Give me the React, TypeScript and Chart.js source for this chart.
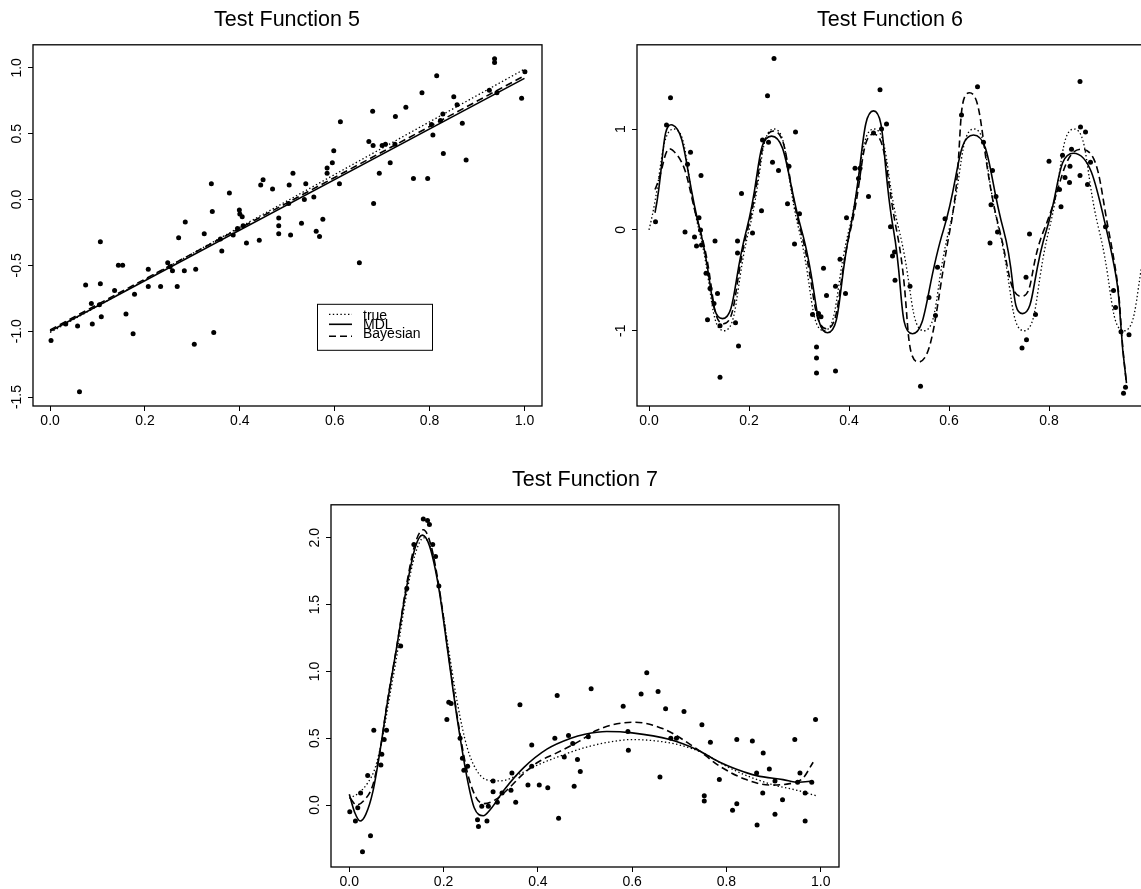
import React, { useEffect, useRef } from 'react';
import { Chart, registerables } from 'chart.js';

Chart.register(...registerables);

const FONT = "'Liberation Sans', Arial, Helvetica, sans-serif";
Chart.defaults.font.family = FONT;

const seriesLabels = ['true', 'MDL', 'Bayesian'];

// ---------------- Test Function 5 ----------------
const tf5PointX = [0.002,0.033,0.058,0.062,0.075,0.087,0.089,0.104,0.106,0.106,0.108,0.136,0.144,0.153,0.160,0.175,0.178,0.207,0.207,0.233,0.248,0.253,0.258,0.268,0.271,0.283,0.285,0.304,0.307,0.325,0.340,0.342,0.345,0.359,0.362,0.378,0.386,0.395,0.399,0.400,0.405,0.407,0.414,0.441,0.444,0.449,0.469,0.482,0.482,0.482,0.503,0.504,0.507,0.512,0.530,0.536,0.539,0.556,0.561,0.568,0.575,0.584,0.584,0.595,0.598,0.610,0.612,0.652,0.672,0.680,0.681,0.682,0.694,0.700,0.707,0.717,0.727,0.728,0.750,0.766,0.784,0.796,0.804,0.807,0.815,0.823,0.828,0.829,0.851,0.858,0.869,0.877,0.926,0.937,0.937,0.942,0.994,1.001];
const tf5PointY = [-1.07,-0.945,-0.96,-1.46,-0.65,-0.79,-0.945,-0.80,-0.32,-0.64,-0.89,-0.69,-0.50,-0.50,-0.87,-1.02,-0.72,-0.53,-0.66,-0.66,-0.48,-0.51,-0.54,-0.66,-0.29,-0.54,-0.17,-1.10,-0.53,-0.26,0.12,-0.09,-1.01,-0.30,-0.39,0.05,-0.27,-0.22,-0.08,-0.11,-0.13,-0.20,-0.33,-0.31,0.11,0.15,0.08,-0.14,-0.20,-0.26,-0.03,0.11,-0.27,0.20,-0.18,0.00,0.12,0.02,-0.24,-0.28,-0.15,0.24,0.20,0.28,0.37,0.12,0.59,-0.48,0.44,0.67,0.41,-0.03,0.20,0.41,0.42,0.28,0.42,0.63,0.70,0.16,0.81,0.16,0.57,0.49,0.94,0.60,0.65,0.35,0.78,0.72,0.58,0.30,0.83,1.07,1.04,0.81,0.77,0.97];
const tf5TrueX = [0.0, 1.0];
const tf5TrueY = [-1.01, 0.99];
const tf5MdlX = [0.0, 1.0];
const tf5MdlY = [-1.0, 0.92];
const tf5BayesX = [0.0, 1.0];
const tf5BayesY = [-0.99, 0.94];
const tf5XTicks = [0, 0.2, 0.4, 0.6, 0.8, 1.0];
const tf5YTicks = [-1.5, -1.0, -0.5, 0.0, 0.5, 1.0];

// ---------------- Test Function 6 ----------------
const tf6PointX = [0.013,0.035,0.043,0.072,0.077,0.083,0.091,0.095,0.100,0.103,0.104,0.105,0.114,0.117,0.122,0.130,0.132,0.137,0.142,0.142,0.173,0.177,0.177,0.179,0.185,0.207,0.225,0.227,0.237,0.239,0.247,0.250,0.259,0.277,0.280,0.291,0.293,0.301,0.327,0.335,0.335,0.335,0.339,0.344,0.349,0.355,0.373,0.373,0.382,0.393,0.395,0.412,0.419,0.422,0.439,0.449,0.462,0.465,0.475,0.483,0.487,0.491,0.492,0.522,0.543,0.560,0.573,0.577,0.592,0.625,0.657,0.669,0.682,0.684,0.687,0.694,0.697,0.746,0.754,0.755,0.761,0.773,0.800,0.821,0.824,0.827,0.832,0.841,0.842,0.845,0.862,0.862,0.863,0.873,0.877,0.883,0.913,0.929,0.933,0.944,0.949,0.953,0.960];
const tf6PointY = [0.08,1.04,1.31,-0.02,0.65,0.77,-0.07,-0.16,0.12,0.00,0.54,-0.15,-0.43,-0.89,-0.58,-0.73,-0.11,-0.63,-1.46,-0.95,-0.92,-0.11,-0.23,-1.15,0.36,-0.03,0.19,0.89,1.33,0.87,0.67,1.70,0.59,0.26,0.63,-0.14,0.97,0.16,-0.84,-1.16,-1.27,-1.42,-0.83,-0.86,-0.38,-0.65,-1.40,-0.56,-0.29,-0.63,0.12,0.61,0.51,0.61,0.33,0.96,1.39,1.00,1.05,0.03,-0.26,-0.22,-0.50,-0.56,-1.55,-0.67,-0.85,-0.37,0.11,1.14,1.42,0.87,-0.13,0.25,0.59,0.33,-0.02,-1.17,-0.47,-1.09,-0.04,-0.84,0.68,0.40,0.23,0.74,0.52,0.47,0.63,0.80,1.47,0.54,1.02,0.97,0.45,0.67,0.03,-0.60,-0.77,-1.01,-1.62,-1.56,-1.04];
const tf6TrueX = [0,0.05,0.1,0.15,0.2,0.25,0.3,0.35,0.4,0.45,0.5,0.55,0.6,0.65,0.7,0.75,0.8,0.85,0.9,0.95,1.0];
const tf6TrueY = [0,1,0,-1,0,1,0,-1,0,1,0,-1,0,1,0,-1,0,1,0,-1,0];
const tf6MdlX = [0.012,0.047,0.102,0.147,0.195,0.245,0.305,0.357,0.402,0.449,0.489,0.527,0.589,0.649,0.709,0.747,0.795,0.849,0.915,0.955];
const tf6MdlY = [0.17,1.04,0,-0.88,0,0.93,0,-1.02,0,1.18,0,-1.03,0,0.94,0,-0.83,0,0.76,0,-1.52];
const tf6BayesX = [0.012,0.047,0.102,0.149,0.197,0.249,0.303,0.355,0.403,0.449,0.495,0.539,0.602,0.641,0.701,0.745,0.79,0.865,0.919,0.955];
const tf6BayesY = [0.40,0.79,0,-0.93,0,0.98,0,-0.98,0,0.95,0,-1.31,0,1.36,0,-0.66,0,0.80,0,-1.52];
const tf6XTicks = [0, 0.2, 0.4, 0.6, 0.8];
const tf6YTicks = [-1, 0, 1];

// ---------------- Test Function 7 ----------------
const tf7PointX = [0.001,0.013,0.018,0.024,0.028,0.039,0.045,0.052,0.067,0.069,0.074,0.079,0.109,0.122,0.137,0.157,0.166,0.170,0.177,0.183,0.190,0.207,0.211,0.216,0.235,0.240,0.243,0.251,0.272,0.274,0.281,0.292,0.295,0.305,0.305,0.314,0.324,0.343,0.345,0.353,0.362,0.379,0.387,0.387,0.403,0.421,0.436,0.441,0.444,0.456,0.465,0.474,0.477,0.484,0.490,0.507,0.513,0.581,0.591,0.592,0.619,0.631,0.655,0.659,0.671,0.682,0.694,0.710,0.748,0.753,0.753,0.766,0.785,0.813,0.822,0.822,0.855,0.864,0.865,0.877,0.878,0.891,0.903,0.903,0.919,0.945,0.951,0.956,0.967,0.967,0.981,0.989];
const tf7PointY = [-0.05,-0.12,-0.02,0.09,-0.35,0.22,-0.23,0.56,0.30,0.38,0.49,0.56,1.19,1.62,1.95,2.14,2.13,2.10,1.95,1.86,1.64,0.64,0.77,0.76,0.50,0.35,0.26,0.29,-0.11,-0.16,-0.01,-0.12,-0.01,0.18,0.10,0.02,0.09,0.11,0.24,0.02,0.75,0.15,0.45,0.29,0.15,0.13,0.50,0.82,-0.10,0.36,0.52,0.46,0.14,0.34,0.25,0.51,0.87,0.74,0.55,0.41,0.83,0.99,0.85,0.21,0.72,0.50,0.50,0.70,0.60,0.07,0.03,0.47,0.19,-0.04,0.49,0.01,0.48,0.24,-0.15,0.09,0.39,0.27,-0.07,0.18,0.04,0.49,0.17,0.24,0.09,-0.12,0.17,0.64];
const tf7TrueX = [0.0,0.02,0.04,0.055,0.07,0.085,0.10,0.12,0.14,0.158,0.175,0.19,0.21,0.23,0.25,0.27,0.29,0.31,0.33,0.36,0.40,0.45,0.50,0.55,0.60,0.65,0.70,0.75,0.80,0.85,0.90,0.95,0.99];
const tf7TrueY = [0.05,0.09,0.17,0.28,0.50,0.80,1.10,1.55,1.88,2.00,1.90,1.63,1.18,0.75,0.43,0.26,0.19,0.18,0.185,0.23,0.30,0.37,0.43,0.47,0.49,0.48,0.45,0.39,0.29,0.21,0.15,0.11,0.07];
const tf7MdlX = [0.0,0.012,0.023,0.035,0.05,0.065,0.08,0.10,0.12,0.14,0.155,0.17,0.19,0.21,0.23,0.25,0.265,0.284,0.30,0.33,0.37,0.42,0.47,0.50,0.546,0.60,0.68,0.74,0.786,0.82,0.864,0.92,0.953,0.983];
const tf7MdlY = [0.08,-0.06,-0.12,-0.07,0.10,0.40,0.75,1.17,1.60,1.93,2.02,1.94,1.62,1.12,0.62,0.20,-0.02,-0.08,-0.03,0.12,0.28,0.42,0.50,0.53,0.55,0.54,0.49,0.41,0.32,0.27,0.22,0.19,0.17,0.18];
const tf7BayesX = [0.002,0.015,0.03,0.05,0.065,0.08,0.10,0.12,0.14,0.157,0.172,0.19,0.21,0.23,0.25,0.27,0.286,0.31,0.34,0.365,0.40,0.44,0.489,0.525,0.603,0.666,0.737,0.786,0.842,0.891,0.934,0.962,0.984];
const tf7BayesY = [0.05,0.00,0.03,0.15,0.40,0.76,1.17,1.62,1.96,2.06,1.96,1.64,1.14,0.64,0.25,0.05,0.01,0.04,0.13,0.22,0.32,0.39,0.48,0.56,0.62,0.57,0.42,0.29,0.19,0.15,0.16,0.20,0.32];
const tf7XTicks = [0, 0.2, 0.4, 0.6, 0.8, 1.0];
const tf7YTicks = [0.0, 0.5, 1.0, 1.5, 2.0];

type Series = [number[], number[]];

type PanelSpec = {
  title: string;
  left: number; top: number; width: number; height: number;
  axisLeft: number; axisBottom: number; axisRight: number;
  xMin: number; xMax: number; yMin: number; yMax: number;
  xTicks: number[]; yTicks: number[];
  yFmt: (v: number) => string;
  yPad: number;
  points: Series;
  curves: Series[];
  tension: number;
  mode: 'default' | 'monotone';
  legend: boolean;
};

const fmt1 = (v: number) => Number(v).toFixed(1);
const fmt0 = (v: number) => String(Math.round(Number(v)));

const panels: PanelSpec[] = [
  {
    title: 'Test Function 5',
    left: 0, top: 0, width: 574, height: 440,
    axisLeft: 33, axisBottom: 34, axisRight: 32,
    xMin: -0.036, xMax: 1.037, yMin: -1.568, yMax: 1.175,
    xTicks: tf5XTicks, yTicks: tf5YTicks, yFmt: fmt1, yPad: -1,
    points: [tf5PointX, tf5PointY],
    curves: [[tf5TrueX, tf5TrueY], [tf5MdlX, tf5MdlY], [tf5BayesX, tf5BayesY]],
    tension: 0, mode: 'default', legend: true,
  },
  {
    title: 'Test Function 6',
    left: 600, top: 0, width: 580, height: 440,
    axisLeft: 37, axisBottom: 34, axisRight: 34,
    xMin: -0.024, xMax: 0.994, yMin: -1.746, yMax: 1.835,
    xTicks: tf6XTicks, yTicks: tf6YTicks, yFmt: fmt0, yPad: 5,
    points: [tf6PointX, tf6PointY],
    curves: [[tf6TrueX, tf6TrueY], [tf6MdlX, tf6MdlY], [tf6BayesX, tf6BayesY]],
    tension: 0.55, mode: 'default', legend: false,
  },
  {
    title: 'Test Function 7',
    left: 300, top: 460, width: 570, height: 440,
    axisLeft: 31, axisBottom: 33, axisRight: 31,
    xMin: -0.0388, xMax: 1.0388, yMin: -0.464, yMax: 2.247,
    xTicks: tf7XTicks, yTicks: tf7YTicks, yFmt: fmt1, yPad: 1,
    points: [tf7PointX, tf7PointY],
    curves: [[tf7TrueX, tf7TrueY], [tf7MdlX, tf7MdlY], [tf7BayesX, tf7BayesY]],
    tension: 0, mode: 'monotone', legend: false,
  },
];

function toXY(xs: number[], ys: number[]) {
  const n = Math.min(xs.length, ys.length);
  const out: { x: number; y: number }[] = [];
  for (let i = 0; i < n; i++) out.push({ x: xs[i], y: ys[i] });
  return out;
}

const lineStyles = [
  { borderDash: [1.4, 2.4], borderWidth: 1.3 },
  { borderDash: [] as number[], borderWidth: 1.6 },
  { borderDash: [7, 4], borderWidth: 1.6 },
];

const boxPlugin = {
  id: 'plotBox',
  beforeDatasetsDraw(chart: any) {
    const { ctx, chartArea: a } = chart;
    ctx.save();
    ctx.strokeStyle = '#000';
    ctx.lineWidth = 1.3;
    ctx.setLineDash([]);
    ctx.strokeRect(a.left, a.top, a.right - a.left, a.bottom - a.top);
    ctx.restore();
  },
};

const legendPlugin = {
  id: 'rLegend',
  afterDatasetsDraw(chart: any) {
    const { ctx, chartArea: a } = chart;
    const bx = a.left + 284;
    const by = a.top + 259;
    const bw = 115;
    const bh = 46;
    ctx.save();
    ctx.fillStyle = '#fff';
    ctx.fillRect(bx, by, bw, bh);
    ctx.strokeStyle = '#000';
    ctx.lineWidth = 1;
    ctx.setLineDash([]);
    ctx.strokeRect(bx + 0.5, by + 0.5, bw, bh);
    const lineY = [10.5, 20.5, 32.5];
    const textY = [16, 25, 34.5];
    for (let i = 0; i < 3; i++) {
      const ds = chart.data.datasets[i + 1];
      ctx.strokeStyle = '#000';
      ctx.setLineDash(ds.borderDash || []);
      ctx.lineWidth = ds.borderWidth;
      ctx.beginPath();
      ctx.moveTo(bx + 12, by + lineY[i]);
      ctx.lineTo(bx + 35, by + lineY[i]);
      ctx.stroke();
      ctx.setLineDash([]);
      ctx.fillStyle = '#000';
      ctx.font = `14px ${FONT}`;
      ctx.textBaseline = 'alphabetic';
      ctx.textAlign = 'left';
      ctx.fillText(ds.label, bx + 46, by + textY[i]);
    }
    ctx.restore();
  },
};

function buildConfig(p: PanelSpec) {
  const datasets: any[] = [
    {
      label: 'data',
      data: toXY(p.points[0], p.points[1]),
      showLine: false,
      pointRadius: 2.5,
      pointBorderWidth: 0,
      pointBackgroundColor: '#000',
      borderColor: '#000',
      yAxisID: 'y',
    },
  ];
  p.curves.forEach((c, i) => {
    datasets.push({
      label: seriesLabels[i],
      data: toXY(c[0], c[1]),
      showLine: true,
      borderColor: '#000',
      borderWidth: lineStyles[i].borderWidth,
      borderDash: lineStyles[i].borderDash,
      pointRadius: 0,
      fill: false,
      tension: p.tension,
      cubicInterpolationMode: p.mode,
      yAxisID: 'y',
    });
  });

  const tickGrid = { display: true, drawOnChartArea: false, drawTicks: true, tickLength: 5, color: '#000', lineWidth: 1 };
  const tickFont = { family: FONT, size: 14 };

  return {
    type: 'line',
    data: { datasets },
    options: {
      responsive: false,
      animation: false,
      devicePixelRatio: 1,
      events: [],
      layout: { padding: 0 },
      plugins: {
        legend: { display: false },
        tooltip: { enabled: false },
        title: {
          display: true,
          text: p.title,
          color: '#000',
          font: { family: FONT, size: 21.5, weight: 'normal', lineHeight: 1.2 },
          padding: { top: 7, bottom: 12 },
        },
      },
      scales: {
        x: {
          type: 'linear',
          min: p.xMin,
          max: p.xMax,
          afterBuildTicks: (s: any) => { s.ticks = p.xTicks.map((v) => ({ value: v })); },
          afterFit: (s: any) => { s.height = p.axisBottom; },
          grid: tickGrid,
          border: { display: false },
          ticks: { color: '#000', font: tickFont, padding: 2, maxRotation: 0, minRotation: 0, autoSkip: false, callback: (v: any) => fmt1(v) },
        },
        y: {
          type: 'linear',
          position: 'left',
          min: p.yMin,
          max: p.yMax,
          afterBuildTicks: (s: any) => { s.ticks = p.yTicks.map((v) => ({ value: v })); },
          afterFit: (s: any) => { s.width = p.axisLeft; },
          grid: tickGrid,
          border: { display: false },
          ticks: { color: '#000', font: tickFont, padding: p.yPad, minRotation: 90, maxRotation: 90, crossAlign: 'center', autoSkip: false, callback: (v: any) => p.yFmt(v) },
        },
        yR: {
          type: 'linear',
          position: 'right',
          display: true,
          grid: { display: false },
          border: { display: false },
          ticks: { display: false },
          afterFit: (s: any) => { s.width = p.axisRight; },
        },
      },
    },
    plugins: p.legend ? [boxPlugin, legendPlugin] : [boxPlugin],
  };
}

function Panel({ spec }: { spec: PanelSpec }) {
  const ref = useRef<HTMLCanvasElement | null>(null);
  useEffect(() => {
    if (!ref.current) return;
    const chart = new Chart(ref.current, buildConfig(spec) as any);
    return () => chart.destroy();
  }, [spec]);
  return (
    <div style={{ position: 'absolute', left: spec.left, top: spec.top, width: spec.width, height: spec.height }}>
      <canvas ref={ref} width={spec.width} height={spec.height} style={{ display: 'block', width: spec.width, height: spec.height }} />
    </div>
  );
}

export default function App() {
  return (
    <div style={{ position: 'absolute', left: 0, top: 0, width: 1141, height: 889, overflow: 'hidden', background: '#fff' }}>
      {panels.map((p) => (
        <Panel key={p.title} spec={p} />
      ))}
    </div>
  );
}
